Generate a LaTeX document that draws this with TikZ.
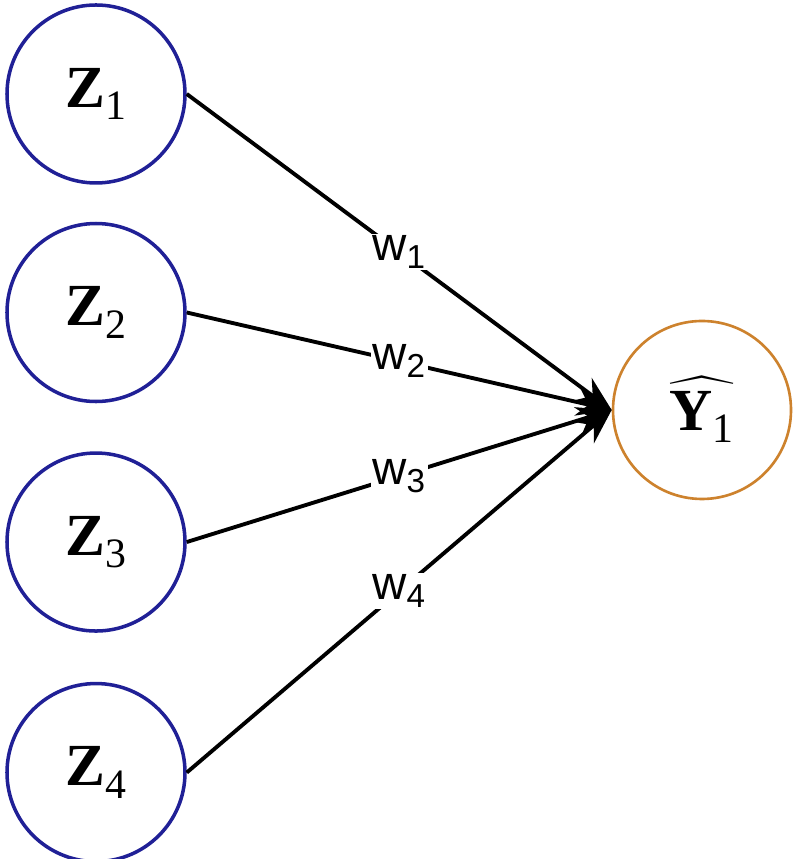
\documentclass[tikz,border=0pt]{standalone}
\usepackage{amsmath}
\usepackage{fontspec}
\setmainfont{Liberation Serif}
\newfontfamily\wfont{Liberation Sans}
\usepackage{tikz}
\usetikzlibrary{positioning,arrows.meta}
\definecolor{zblue}{RGB}{32,32,150}
\definecolor{yorange}{RGB}{205,130,45}
\newcommand{\idx}[1]{\textsubscript{\mdseries #1}}
\tikzset{
  innode/.style={circle, draw=zblue, fill=white, line width=2pt, minimum size=3.56cm,
                 inner sep=0pt, font=\fontsize{34}{40}\selectfont\bfseries},
  outnode/.style={innode, draw=yorange, line width=1.5pt},
  wire/.style={-{Stealth[length=7mm,width=5.5mm]}, line width=2.2pt, black},
  wlbl/.style={fill=white, inner sep=1pt, font=\wfont\fontsize{27}{30}\selectfont}
}

\begin{document}
\begin{tikzpicture}
        \useasboundingbox (0,0) rectangle (16,17.18);
        \node[innode] (z1) at (1.92,15.3) {Z\idx{1}};
        \node[innode, below=0.74cm of z1] (z2) {Z\idx{2}};
        \node[innode, below=0.96cm of z2] (z3) {Z\idx{3}};
        \node[innode, below=0.98cm of z3] (z4) {Z\idx{4}};
        \node[outnode] (y1) at (14.04,8.98) {$\widehat{\text{\bfseries Y\idx{1}}}$};
        \draw[wire] (z1.east) -- node[wlbl] {w\textsubscript{1}} (y1.west);
        \draw[wire] (z2.east) -- node[wlbl] {w\textsubscript{2}} (y1.west);
        \draw[wire] (z3.east) -- node[wlbl] {w\textsubscript{3}} (y1.west);
        \draw[wire] (z4.east) -- node[wlbl] {w\textsubscript{4}} (y1.west);
      \end{tikzpicture}
\end{document}
